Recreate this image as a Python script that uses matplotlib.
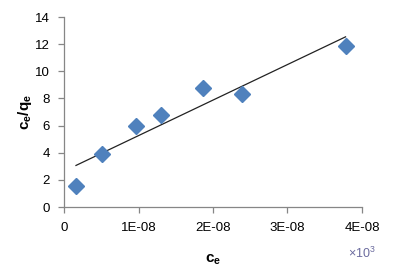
import numpy as np
import matplotlib.pyplot as plt

# data
ce = [0.16e-08, 0.51e-08, 0.96e-08, 1.30e-08, 1.86e-08, 2.39e-08, 3.78e-08]
ce_qe = [1.54, 3.88, 6.0, 6.8, 8.8, 8.3, 11.9]
x_ticks = [0, 1e-08, 2e-08, 3e-08, 4e-08]
x_labels = ['0', '1E-08', '2E-08', '3E-08', '4E-08']
y_ticks = [0, 2, 4, 6, 8, 10, 12, 14]

plt.rcParams['font.family'] = ['Liberation Sans', 'DejaVu Sans']
plt.rcParams['mathtext.fontset'] = 'custom'
plt.rcParams['mathtext.rm'] = 'Liberation Sans'
plt.rcParams['mathtext.bf'] = 'Liberation Sans:bold'

fig = plt.figure(figsize=(3.93, 2.71), dpi=100)
ax = fig.add_axes([0.163, 0.236, 0.758, 0.701])

ax.plot(ce, ce_qe, linestyle='none', marker='D', markersize=8,
        color='#4f81bd', markeredgecolor='#4f81bd', zorder=3)

# linear trendline
k, b = np.polyfit(ce, ce_qe, 1)
xs = np.array([min(ce), max(ce)])
ax.plot(xs, k * xs + b, color='#222222', linewidth=0.9, zorder=2)

ax.set_xlim(0, 4e-08)
ax.set_ylim(0, 14)
ax.set_xticks(x_ticks)
ax.set_xticklabels(x_labels)
ax.set_yticks(y_ticks)

for s in ['top', 'right']:
    ax.spines[s].set_visible(False)
for s in ['left', 'bottom']:
    ax.spines[s].set_color('#868686')
    ax.spines[s].set_linewidth(0.9)
ax.tick_params(axis='both', colors='#868686', labelcolor='black',
               labelsize=9.5, length=4, width=0.9, direction='out')
ax.tick_params(axis='x', pad=7)
ax.tick_params(axis='y', pad=6)

ax.set_xlabel(r'$\mathbf{c_e}$', fontsize=11, labelpad=13)
ax.set_ylabel(r'$\mathbf{c_e/q_e}$', fontsize=11, labelpad=1)
fig.text(0.921, 0.066, r'$\times10^3$', fontsize=9, color='#6b6b9e',
         ha='center', va='center')

fig.savefig('out.png', dpi=100)
